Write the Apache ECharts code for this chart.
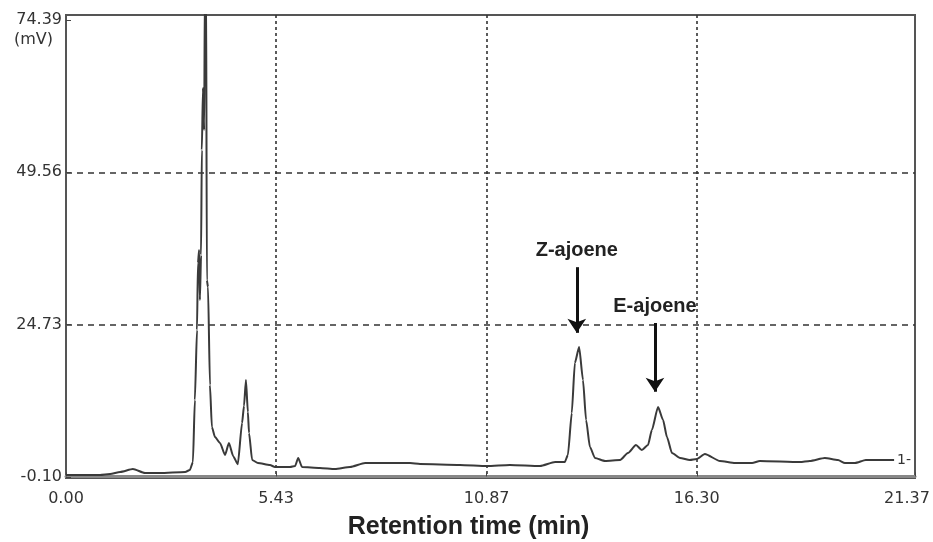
<!DOCTYPE html>
<html>
<head>
<meta charset="utf-8">
<title>Chromatogram</title>
<script src="https://cdn.jsdelivr.net/npm/echarts@6/dist/echarts.min.js"></script>
<style>
  html, body { margin: 0; padding: 0; background: #fff; }
  #chart { width: 933px; height: 542px; }
</style>
</head>
<body>
<div id="chart"></div>
<script>
// trace: retention time (min) / signal (mV)
var retentionTime = [
  0.00, 0.88, 1.14, 1.40, 1.73, 2.04, 2.43, 3.08, 3.20, 3.28,
  3.33, 3.385, 3.41, 3.44, 3.46, 3.49, 3.51, 3.54, 3.57, 3.59,
  3.62, 3.64, 3.67, 3.72, 3.77, 3.85, 3.98, 4.11, 4.21, 4.32,
  4.44, 4.55, 4.60, 4.65, 4.70, 4.73, 4.81, 4.96, 5.27, 5.40,
  5.79, 5.92, 6.00, 6.10, 6.56, 6.95, 7.34, 7.73, 8.89, 9.15,
  10.18, 10.88, 11.47, 12.25, 12.64, 12.89, 12.97, 13.07, 13.15, 13.26,
  13.36, 13.44, 13.54, 13.67, 13.93, 14.32, 14.52, 14.73, 14.88, 15.04,
  15.14, 15.30, 15.43, 15.53, 15.66, 15.87, 16.12, 16.30, 16.51, 16.90,
  17.29, 17.73, 17.93, 18.97, 19.22, 19.61, 19.95, 20.13, 20.39, 20.67,
  21.40
];
var signalMv = [
  0.23, 0.23, 0.39, 0.72, 1.20, 0.55, 0.55, 0.72, 1.04, 2.34,
  12.45, 23.86, 34.78, 36.90, 28.75, 36.09, 53.20, 63.31, 56.46, 80.0,
  82.0, 32.0, 30.87, 14.90, 8.05, 6.42, 5.44, 3.49, 5.44, 3.30,
  2.00, 8.70, 11.50, 15.71, 10.50, 7.07, 2.67, 2.18, 1.86, 1.53,
  1.53, 1.69, 3.00, 1.53, 1.37, 1.20, 1.53, 2.18, 2.18, 2.02,
  1.86, 1.69, 1.86, 1.69, 2.34, 2.34, 3.49, 10.33, 18.48, 21.09,
  15.71, 9.19, 4.79, 3.00, 2.51, 2.67, 3.81, 5.12, 4.30, 5.12,
  7.56, 11.31, 9.19, 6.42, 3.81, 3.00, 2.67, 2.83, 3.65, 2.51,
  2.18, 2.18, 2.51, 2.34, 2.51, 3.00, 2.67, 2.18, 2.18, 2.67,
  2.67
];

var xTickValues = [0, 5.43, 10.87, 16.30, 21.94];
var xTickLabels = ['0.00', '5.43', '10.87', '16.30', '21.37'];
var yTickValues = [-0.10, 24.73, 49.56, 74.39];
var yTickLabels = ['-0.10', '24.73', '49.56', '74.39'];

// peak annotations: arrow from (time, top) down to (time, tip)
var peakNames = ['Z-ajoene', 'E-ajoene'];
var arrowTime = [13.20, 15.22];
var arrowTop = [34.1, 25.0];
var arrowTip = [23.4, 13.8];

var chart = echarts.init(document.getElementById('chart'));

var seriesData = retentionTime.map(function (t, i) { return [t, signalMv[i]]; });

var arrows = peakNames.map(function (name, i) {
  return [
    { name: name, coord: [arrowTime[i], arrowTop[i]] },
    { coord: [arrowTime[i], arrowTip[i]] }
  ];
});

// the last x label sits a little left of the frame corner, as in the original
function xLabel(v) {
  for (var i = 0; i < xTickValues.length; i++) {
    if (Math.abs(xTickValues[i] - v) < 1e-6) {
      return i === xTickValues.length - 1 ? '{last|' + xTickLabels[i] + '}' : xTickLabels[i];
    }
  }
  return '';
}
function yLabel(v) {
  for (var i = 0; i < yTickValues.length; i++) {
    if (Math.abs(yTickValues[i] - v) < 1e-6) return yTickLabels[i];
  }
  return '';
}

var tickFont = { color: '#333', fontSize: 16, fontFamily: 'DejaVu Sans' };

var option = {
  animation: false,
  grid: {
    left: 66, right: 18, top: 15, bottom: 64,
    outerBoundsMode: 'none',
    containLabel: false,
    show: true, borderColor: '#555', borderWidth: 2
  },
  xAxis: {
    type: 'value',
    min: 0, max: 21.94,
    name: 'Retention time (min)',
    nameLocation: 'middle',
    nameGap: 37,
    nameTextStyle: {
      fontFamily: 'Liberation Sans', fontWeight: 'bold', fontSize: 25,
      color: '#222', padding: [0, 44, 0, 0]
    },
    axisLine: { show: true, lineStyle: { color: '#888', width: 3 } },
    axisTick: { show: true, inside: true, length: 4, customValues: xTickValues, lineStyle: { color: '#444' } },
    axisLabel: Object.assign({
      customValues: xTickValues, margin: 13,
      formatter: xLabel,
      rich: { last: { color: '#333', fontSize: 16, fontFamily: 'DejaVu Sans', padding: [0, 16, 0, 0] } }
    }, tickFont),
    splitLine: {
      show: true,
      lineStyle: { color: ['transparent', '#333', '#333', '#333', 'transparent'], type: [3, 3], width: 1.6 }
    }
  },
  yAxis: {
    type: 'value',
    min: -0.26, max: 75.2,
    name: '(mV)',
    nameLocation: 'end',
    nameGap: -25,
    nameTextStyle: {
      color: '#333', fontSize: 16, fontFamily: 'DejaVu Sans',
      align: 'right', verticalAlign: 'middle', padding: [0, 13, 0, 0]
    },
    axisLine: { show: true, lineStyle: { color: '#555', width: 2 } },
    axisTick: { show: true, inside: true, length: 5, customValues: yTickValues, lineStyle: { color: '#444' } },
    axisLabel: Object.assign({
      customValues: yTickValues, margin: 4,
      formatter: yLabel
    }, tickFont),
    splitLine: {
      show: true,
      lineStyle: { color: ['transparent', '#333', '#333', 'transparent'], type: [6, 5], width: 1.6 }
    }
  },
  series: [
    {
      type: 'line',
      data: seriesData,
      showSymbol: false,
      clip: true,
      smooth: 0.2,
      smoothMonotone: 'x',
      lineStyle: { color: '#3a3a3a', width: 2 },
      endLabel: {
        show: true, formatter: '1-', distance: 3,
        color: '#333', fontSize: 14, fontFamily: 'DejaVu Sans'
      },
      markLine: {
        silent: true,
        symbol: ['none', 'arrow'],
        symbolSize: 14,
        lineStyle: { color: '#111', width: 3, type: 'solid' },
        label: {
          show: true, position: 'start', distance: 7,
          formatter: '{b}',
          color: '#222', fontSize: 20, fontWeight: 'bold', fontFamily: 'Liberation Sans'
        },
        data: arrows
      }
    }
  ]
};

chart.setOption(option);
</script>
</body>
</html>
